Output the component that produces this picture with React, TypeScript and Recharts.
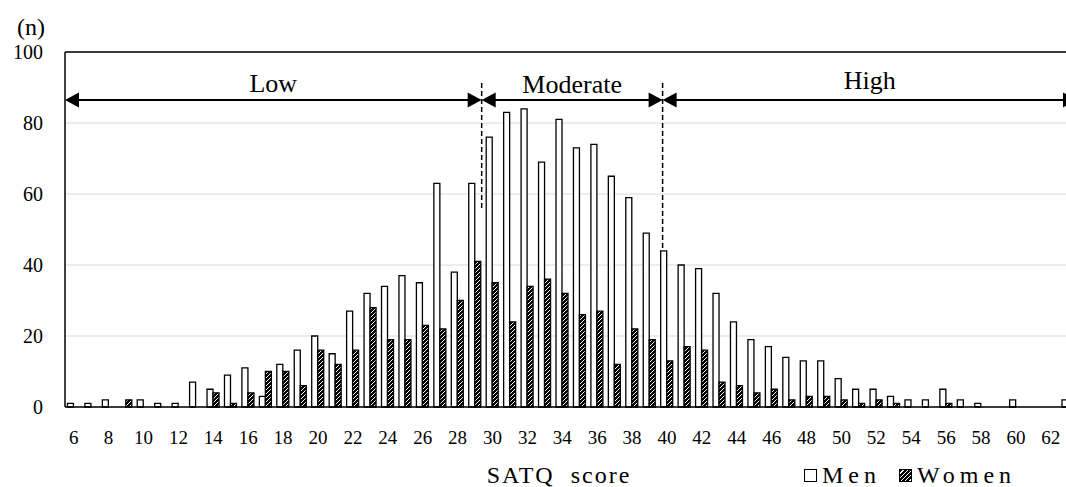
import {
  BarChart,
  Bar,
  XAxis,
  YAxis,
  CartesianGrid,
  Legend,
  ReferenceLine,
} from 'recharts'

const SERIF = "'Liberation Serif', 'DejaVu Serif', serif"

// SATQ score categories (only even ones get a label)
const scores = [
  6, 7, 8, 9, 10, 11, 12, 13, 14, 15, 16, 17, 18, 19, 20, 21, 22, 23, 24, 25,
  26, 27, 28, 29, 30, 31, 32, 33, 34, 35, 36, 37, 38, 39, 40, 41, 42, 43, 44,
  45, 46, 47, 48, 49, 50, 51, 52, 53, 54, 55, 56, 57, 58, 59, 60, 61, 62, 63,
]

const men = [
  1, 1, 2, 0, 2, 1, 1, 7, 5, 9, 11, 3, 12, 16, 20, 15, 27, 32, 34, 37,
  35, 63, 38, 63, 76, 83, 84, 69, 81, 73, 74, 65, 59, 49, 44, 40, 39, 32, 24,
  19, 17, 14, 13, 13, 8, 5, 5, 3, 2, 2, 5, 2, 1, 0, 2, 0, 0, 2,
]

const women = [
  0, 0, 0, 2, 0, 0, 0, 0, 4, 1, 4, 10, 10, 6, 16, 12, 16, 28, 19, 19,
  23, 22, 30, 41, 35, 24, 34, 36, 32, 26, 27, 12, 22, 19, 13, 17, 16, 7, 6,
  4, 5, 2, 3, 3, 2, 1, 2, 1, 0, 0, 1, 0, 0, 0, 0, 0, 0, 0,
]

const yTicks = [0, 20, 40, 60, 80, 100]

// level bands drawn above the bars (score units on a hidden numeric axis)
const levelNames = ['Low', 'Moderate', 'High']
const levelEdges = [5.5, 29.38, 39.75, 63.5]
const levelLabelOffsets = [8, 7, 11]
const arrowLevel = 86.5
const cutTop = 91.3
const cutBottoms = [55.4, 44.5]

const data = scores.map((s, i) => ({ score: s, Men: men[i], Women: women[i] }))

const arrowShape = (p: any) => {
  const { x1, x2, y1 } = p
  const left = Math.min(x1, x2)
  const right = Math.max(x1, x2)
  const L = 14
  const H = 7.5
  return (
    <g>
      <line x1={left + L - 1} y1={y1} x2={right - L + 1} y2={y1} stroke="#000" strokeWidth={2} />
      <polygon points={`${left},${y1} ${left + L},${y1 - H} ${left + L},${y1 + H}`} fill="#000" />
      <polygon points={`${right},${y1} ${right - L},${y1 - H} ${right - L},${y1 + H}`} fill="#000" />
    </g>
  )
}

const XLabel = ({ viewBox }: any) => (
  <text
    x={viewBox.x + viewBox.width / 2 - 12}
    y={viewBox.y + 76}
    textAnchor="middle"
    fontFamily={SERIF}
    fontSize={24}
    letterSpacing={2}
    fill="#000"
  >
    {'SATQ\u00a0 score'}
  </text>
)

const YLabel = ({ viewBox }: any) => (
  <text x={viewBox.x + 11} y={viewBox.y - 17} textAnchor="middle" fontFamily={SERIF} fontSize={24} fill="#000">
    (n)
  </text>
)

const LegendContent = ({ payload }: any) => (
  <div style={{ display: 'flex', alignItems: 'center', fontFamily: SERIF, fontSize: 24, lineHeight: '24px', color: '#000' }}>
    {(payload || []).map((p: any) => (
      <div key={p.value} style={{ display: 'flex', alignItems: 'center', marginRight: 18 }}>
        <span
          style={{
            display: 'inline-block',
            width: 11,
            height: 11,
            border: '1.5px solid #000',
            marginRight: 5,
            background:
              p.value === 'Women'
                ? 'repeating-linear-gradient(135deg, #000 0 2px, #fff 2px 3px)'
                : '#fff',
          }}
        />
        <span style={{ letterSpacing: 5 }}>{p.value}</span>
      </div>
    ))}
  </div>
)

export default function App() {
  return (
    <div style={{ position: 'absolute', left: 0, top: 0, width: 1066, height: 487, overflow: 'hidden', background: '#fff' }}>
      <BarChart
        width={1090}
        height={487}
        data={data}
        margin={{ top: 52, right: 13, left: 20, bottom: 50 }}
        barCategoryGap="14%"
        barGap={0}
      >
        <defs>
          <pattern id="hatch" patternUnits="userSpaceOnUse" width={4} height={4}>
            <rect width={4} height={4} fill="#000" />
            <path d="M-1,1 L1,-1 M0,4 L4,0 M3,5 L5,3" stroke="#fff" strokeWidth={1} />
          </pattern>
        </defs>
        <CartesianGrid vertical={false} stroke="#d9d9d9" strokeWidth={1.2} />
        <XAxis
          dataKey="score"
          interval={1}
          tickLine={false}
          axisLine={{ stroke: '#000', strokeWidth: 1.5 }}
          tick={{ fontSize: 19, fill: '#000', fontFamily: SERIF }}
          tickMargin={18}
          height={30}
          label={XLabel}
        />
        <XAxis xAxisId="n" dataKey="score" type="number" domain={[5.5, 63.5]} allowDataOverflow hide />
        <YAxis
          domain={[0, 100]}
          ticks={yTicks}
          width={45}
          tickLine={false}
          axisLine={{ stroke: '#000', strokeWidth: 1.5 }}
          tick={{ fontSize: 20, fill: '#000', fontFamily: SERIF }}
          tickMargin={16}
          label={YLabel}
        />
        <Legend
          layout="vertical"
          align="center"
          verticalAlign="middle"
          wrapperStyle={{ left: 804, top: 463, width: 'auto' }}
          content={LegendContent}
        />
        <Bar dataKey="Men" name="Men" fill="#fff" stroke="#000" strokeWidth={1.3} isAnimationActive={false} />
        <Bar dataKey="Women" name="Women" fill="url(#hatch)" stroke="#000" strokeWidth={1.3} isAnimationActive={false} />
        <ReferenceLine y={100} stroke="#000" strokeWidth={1.5} />
        {cutBottoms.map((b, i) => (
          <ReferenceLine
            key={'cut' + i}
            xAxisId="n"
            ifOverflow="visible"
            segment={[
              { x: levelEdges[i + 1], y: cutTop },
              { x: levelEdges[i + 1], y: b },
            ]}
            stroke="#000"
            strokeWidth={1.5}
            strokeDasharray="5 3"
          />
        ))}
        {levelNames.map((name, i) => (
          <ReferenceLine
            key={name}
            xAxisId="n"
            ifOverflow="visible"
            segment={[
              { x: levelEdges[i], y: arrowLevel },
              { x: levelEdges[i + 1], y: arrowLevel },
            ]}
            shape={arrowShape}
            label={{
              value: name,
              position: 'top',
              offset: levelLabelOffsets[i],
              fontSize: 26,
              fill: '#000',
              fontFamily: SERIF,
            }}
          />
        ))}
      </BarChart>
    </div>
  )
}
